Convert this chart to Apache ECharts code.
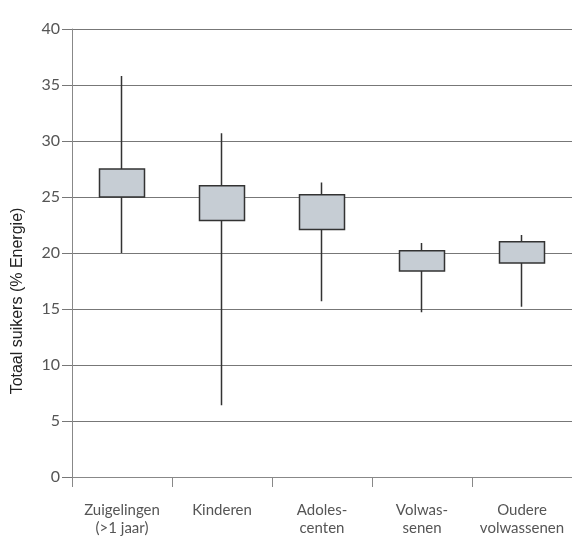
<!DOCTYPE html>
<html><head><meta charset="utf-8">
<script src="https://cdn.jsdelivr.net/npm/echarts@6/dist/echarts.min.js"></script>
<style>html,body{margin:0;padding:0;background:#fff}#c{width:572px;height:537px}</style>
</head><body><div id="c"></div>
<script>
const categories = ['Zuigelingen\n(>1 jaar)', 'Kinderen', 'Adoles-\ncenten', 'Volwas-\nsenen', 'Oudere\nvolwassenen'];
const boxLow  = [25.0, 22.9, 22.1, 18.4, 19.1];
const boxHigh = [27.5, 26.0, 25.2, 20.2, 21.0];
const whiskerMin = [20.0, 6.4, 15.7, 14.7, 15.2];
const whiskerMax = [35.8, 30.7, 26.3, 20.9, 21.6];
const yTicks = [0, 5, 10, 15, 20, 25, 30, 35, 40];

const data = categories.map((c, i) => [boxLow[i], boxHigh[i], whiskerMin[i], whiskerMax[i]]);
const font = 'Lato, "Liberation Sans", sans-serif';
const chart = echarts.init(document.getElementById('c'));
chart.setOption({
  animation: false,
  grid: { left: 72, right: 0, top: 29, bottom: 60 },
  xAxis: {
    type: 'category', data: categories, boundaryGap: true,
    axisLine: { lineStyle: { color: '#888', width: 1 } },
    axisTick: { show: true, interval: 0, length: 10, lineStyle: { color: '#888' } },
    axisLabel: { interval: 0, color: '#555', fontSize: 15, fontFamily: font, margin: 24, lineHeight: 18 },
    splitLine: { show: false }
  },
  yAxis: {
    type: 'value', min: yTicks[0], max: yTicks[yTicks.length - 1], interval: 5,
    name: 'Totaal suikers (% Energie)', nameLocation: 'middle', nameGap: 46,
    nameTextStyle: { color: '#222', fontSize: 16, fontFamily: '"Liberation Sans", Arial, sans-serif', padding: [0, 96, 0, 0] },
    axisLine: { show: true, lineStyle: { color: '#888', width: 1 } },
    axisTick: { show: true, length: 10, lineStyle: { color: '#777' } },
    axisLabel: { color: '#555', fontSize: 16, fontFamily: font, margin: 12 },
    splitLine: { show: true, lineStyle: { color: '#777', width: 1 } }
  },
  series: [{
    type: 'candlestick',
    data: data,
    barWidth: 45,
    itemStyle: {
      color: '#c6cdd4', color0: '#c6cdd4',
      borderColor: '#333', borderColor0: '#333', borderWidth: 1.5
    }
  }]
});
</script></body></html>
